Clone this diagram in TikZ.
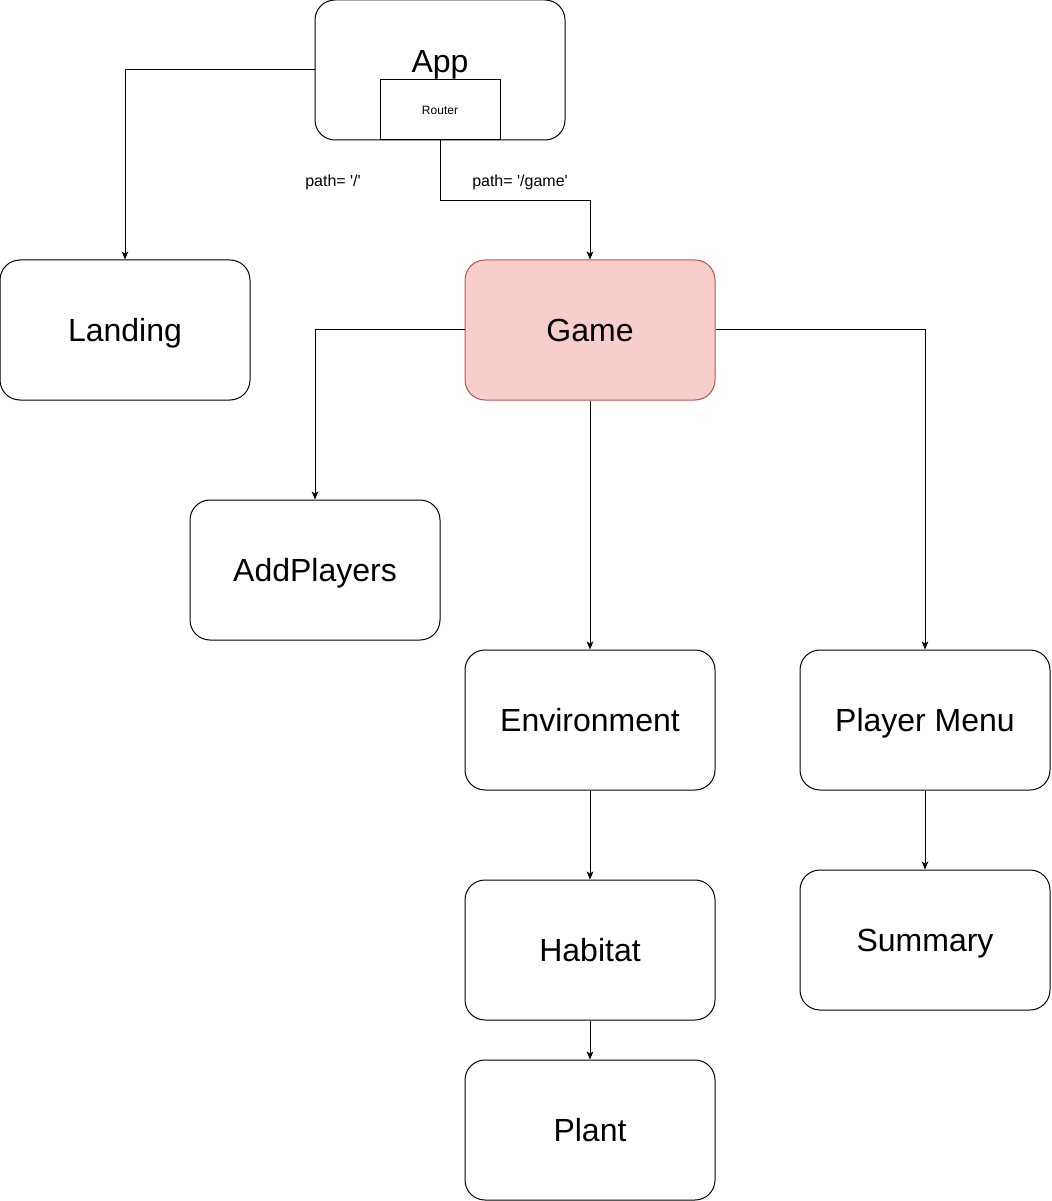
\documentclass[tikz,border=0pt]{standalone}
\usepackage{fontspec}
\setmainfont{Liberation Sans}
\usetikzlibrary{arrows.meta}
\definecolor{gamefill}{HTML}{F8CECC}
\definecolor{gameline}{HTML}{B85450}

\begin{document}
\begin{tikzpicture}[x=0.75pt, y=-0.75pt, line width=0.75pt,
	big/.style={font=\fontsize{24}{28}\selectfont, text height=17.2pt, text depth=0pt},
	box/.style={draw, big, rounded corners=15pt, minimum width=187.5pt, minimum height=105pt, inner sep=0pt},
	router/.style={draw, fill=white, minimum width=90pt, minimum height=45pt, inner sep=0pt, font=\fontsize{9}{11}\selectfont, text height=6.4pt, text depth=0pt},
	route/.style={font=\fontsize{12}{14}\selectfont},
	link/.style={-{Stealth[length=6pt, width=5pt, inset=1.5pt]}}]
\useasboundingbox (0,0) rectangle (1051,1201);

% components
\node[box] (app) at (440,70) {};
\node[big] (applabel) at (440,61) {App};
\node[router] (router) at (440,110) {Router};
\node[box] (landing) at (125,330) {Landing};
\node[box, fill=gamefill, draw=gameline] (game) at (590,330) {Game};
\node[box] (addplayers) at (315,570) {AddPlayers};
\node[box] (environment) at (590,720) {Environment};
\node[box] (playermenu) at (925,720) {Player Menu};
\node[box] (habitat) at (590,950) {Habitat};
\node[box] (summary) at (925,940) {Summary};
\node[box] (plant) at (590,1130) {Plant};

% routes
\node[route] (rootpath) at (333,182) {path= \textquotesingle/\textquotesingle};
\node[route] (gamepath) at (520,182) {path= \textquotesingle/game\textquotesingle};
\draw[link] (app.west) -| (landing.north);
\draw[link] (router.south) -- ++(0,60) -| (game.north);

\draw[link] (game.west) -| (addplayers.north);
\draw[link] (game.east) -| (playermenu.north);
\foreach \a/\b in {game/environment, environment/habitat, habitat/plant, playermenu/summary}
	\draw[link] (\a.south) -- (\b.north);
\end{tikzpicture}
\end{document}
